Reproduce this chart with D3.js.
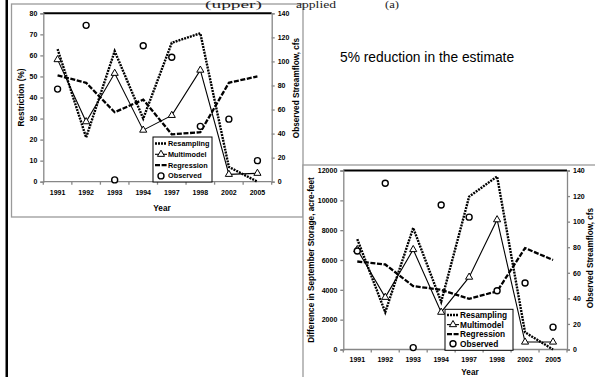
<!DOCTYPE html>
<html>
<head>
<meta charset="utf-8">
<script src="https://cdn.jsdelivr.net/npm/d3@7"></script>
<style>
  body { margin: 0; background: #fff; }
  svg { display: block; font-family: "Liberation Sans", Arial, sans-serif; }
</style>
</head>
<body>
<div id="chart"></div>
<script>
// values
const years = ["1991", "1992", "1993", "1994", "1997", "1998", "2002", "2005"];
const restrictResampling = [63, 21, 62, 30, 66, 70.5, 7, 0];
const restrictMultimodel = [58, 28.5, 51.5, 24.5, 31.5, 53, 3.5, 4];
const restrictRegression = [50.5, 47, 33, 39, 22.5, 23.5, 47, 50];
const storageResampling = [7400, 2500, 8150, 3200, 10250, 11600, 1150, 0];
const storageMultimodel = [6700, 3500, 6700, 2500, 4850, 8700, 500, 500];
const storageRegression = [5900, 5700, 4250, 4000, 3400, 3900, 6800, 6000];
const observedFlow = [77, 130, 1.5, 113, 103.5, 46, 52, 17.5];
const legendNames = ["Resampling", "Multimodel", "Regression", "Observed"];
const captionParts = ["(upper)", "applied", "(a)"];

const W = 595, H = 377;
const axisGray = "#878787";
const dotted = "2,1";
const dashed = "5,1.6";

const svg = d3.select("#chart").append("svg")
  .attr("width", W).attr("height", H);

// page margin rule
svg.append("rect").attr("x", 5.5).attr("y", 0).attr("width", 2.5).attr("height", H).attr("fill", "#000");

svg.append("text")
  .attr("x", 340).attr("y", 62)
  .attr("font-size", 13.8)
  .text("5% reduction in the estimate");

function drawChart(cfg) {
  const g = svg.append("g");

  g.append("rect")
    .attr("x", cfg.box.x).attr("y", cfg.box.y)
    .attr("width", cfg.box.w).attr("height", cfg.box.h)
    .attr("fill", "#fff").attr("stroke", "#9a9a9a").attr("stroke-width", 1.3);

  const x = d3.scaleBand().domain(years).range([cfg.plot.l, cfg.plot.r]).padding(0);
  const y = d3.scaleLinear().domain([0, cfg.yMax]).range([cfg.plot.b, cfg.plot.t]);
  const y2 = d3.scaleLinear().domain([0, 140]).range([cfg.plot.b, cfg.plot.t]);
  const cx = (d, i) => x(years[i]) + x.bandwidth() / 2;

  // plot area top border
  g.append("line")
    .attr("x1", cfg.plot.l).attr("x2", cfg.plot.r)
    .attr("y1", cfg.plot.t).attr("y2", cfg.plot.t)
    .attr("stroke", "#000").attr("stroke-width", 2);

  // left axis
  const yAxis = g.append("g")
    .attr("transform", `translate(${cfg.plot.l},0)`)
    .call(d3.axisLeft(y).tickValues(d3.range(0, cfg.yMax + 1, cfg.yStep))
      .tickFormat(d3.format("d")).tickSize(3).tickPadding(3));
  // right axis
  const y2Axis = g.append("g")
    .attr("transform", `translate(${cfg.plot.r},0)`)
    .call(d3.axisRight(y2).tickValues(d3.range(0, 141, 20))
      .tickFormat(d3.format("d")).tickSize(3).tickPadding(3));
  // bottom axis (labels only, ticks between categories)
  const xAxis = g.append("g")
    .attr("transform", `translate(0,${cfg.plot.b})`)
    .call(d3.axisBottom(x).tickSize(0).tickPadding(cfg.xLabelPad));
  xAxis.selectAll(".tick")
    .append("line")
    .attr("x1", -x.step() / 2).attr("x2", -x.step() / 2)
    .attr("y1", 0).attr("y2", 3);
  xAxis.append("line")
    .attr("x1", cfg.plot.r).attr("x2", cfg.plot.r)
    .attr("y1", 0).attr("y2", 3);

  [yAxis, y2Axis, xAxis].forEach((a) => {
    a.selectAll("path, line").attr("stroke", axisGray).attr("stroke-width", 1.3);
    a.selectAll("text")
      .attr("fill", "#000")
      .attr("font-size", cfg.tickFont)
      .attr("font-weight", "bold")
      .attr("font-family", "'Liberation Sans', Arial, sans-serif");
  });
  xAxis.select(".domain").attr("d", `M${cfg.plot.l},0H${cfg.plot.r}`);

  // axis titles
  const title = (tx, ty, rot, txt) => g.append("text")
    .attr("transform", `translate(${tx},${ty}) rotate(${rot})`)
    .attr("text-anchor", "middle").attr("dominant-baseline", "central")
    .attr("font-size", cfg.titleFont).attr("font-weight", "bold")
    .text(txt);
  title(cfg.yearX, cfg.yearY, 0, "Year");
  title(cfg.leftTitleX, (cfg.plot.t + cfg.plot.b) / 2, -90, cfg.leftTitle);
  title(cfg.rightTitleX, cfg.rightTitleY, -90, "Observed  Streamflow, cfs");

  const line = d3.line().x(cx).y((d) => y(d));

  g.append("path").datum(cfg.regression)
    .attr("d", line).attr("fill", "none")
    .attr("stroke", "#000").attr("stroke-width", 2.3).attr("stroke-dasharray", dashed);
  g.append("path").datum(cfg.resampling)
    .attr("d", line).attr("fill", "none")
    .attr("stroke", "#000").attr("stroke-width", 2.4).attr("stroke-dasharray", dotted);
  g.append("path").datum(cfg.multimodel)
    .attr("d", line).attr("fill", "none")
    .attr("stroke", "#000").attr("stroke-width", 1.1);

  const tri = d3.symbol(d3.symbolTriangle).size(cfg.triSize);
  g.selectAll(".tri").data(cfg.multimodel).enter().append("path")
    .attr("class", "tri")
    .attr("d", tri)
    .attr("transform", (d, i) => `translate(${cx(d, i)},${y(d)})`)
    .attr("fill", "#fff").attr("stroke", "#000").attr("stroke-width", 1);

  g.selectAll(".obs").data(observedFlow).enter().append("circle")
    .attr("class", "obs")
    .attr("cx", cx).attr("cy", (d) => y2(d))
    .attr("r", cfg.circleR)
    .attr("fill", "#fff").attr("stroke", "#000").attr("stroke-width", 1.4);

  // legend
  const L = cfg.legend;
  const lg = g.append("g");
  lg.append("rect")
    .attr("x", L.x).attr("y", L.y).attr("width", L.w).attr("height", L.h)
    .attr("fill", "#fff").attr("stroke", "#000").attr("stroke-width", 1);
  legendNames.forEach((name, i) => {
    const ry = L.y + L.first + i * L.row;
    const x0 = L.x + 2, x1 = L.textX - 1, xm = (x0 + x1) / 2;
    if (name === "Resampling") {
      lg.append("line").attr("x1", x0).attr("x2", x1).attr("y1", ry).attr("y2", ry)
        .attr("stroke", "#000").attr("stroke-width", 2.4).attr("stroke-dasharray", dotted);
    } else if (name === "Regression") {
      lg.append("line").attr("x1", x0).attr("x2", x1).attr("y1", ry).attr("y2", ry)
        .attr("stroke", "#000").attr("stroke-width", 2.3).attr("stroke-dasharray", dashed);
    } else if (name === "Multimodel") {
      lg.append("line").attr("x1", x0).attr("x2", x1).attr("y1", ry).attr("y2", ry)
        .attr("stroke", "#000").attr("stroke-width", 1.1);
      lg.append("path").attr("d", tri).attr("transform", `translate(${xm},${ry})`)
        .attr("fill", "#fff").attr("stroke", "#000").attr("stroke-width", 1);
    } else {
      lg.append("circle").attr("cx", xm).attr("cy", ry).attr("r", cfg.circleR)
        .attr("fill", "#fff").attr("stroke", "#000").attr("stroke-width", 1.4);
    }
    lg.append("text")
      .attr("x", L.textX).attr("y", ry)
      .attr("dominant-baseline", "central")
      .attr("font-size", L.font).attr("font-weight", "bold")
      .text(name);
  });
}

drawChart({
  box: { x: 11.5, y: 4, w: 291.5, h: 213 },
  plot: { l: 43.3, r: 271.7, t: 13.3, b: 181.7 },
  yMax: 80, yStep: 10,
  resampling: restrictResampling,
  multimodel: restrictMultimodel,
  regression: restrictRegression,
  leftTitle: "Restriction (%)",
  leftTitleX: 21.7,
  rightTitleX: 296, rightTitleY: 88,
  yearX: 162, yearY: 208,
  xLabelPad: 8,
  tickFont: 7, titleFont: 8.2,
  triSize: 22, circleR: 3,
  legend: { x: 153, y: 137, w: 59, h: 45, first: 6.5, row: 10.8, textX: 168, font: 7.3 },
});

drawChart({
  box: { x: 303, y: 165, w: 300, h: 220 },
  plot: { l: 343.3, r: 567, t: 170.5, b: 349.5 },
  yMax: 12000, yStep: 2000,
  resampling: storageResampling,
  multimodel: storageMultimodel,
  regression: storageRegression,
  leftTitle: "Difference in September Storage, acre-feet",
  leftTitleX: 311.7,
  rightTitleX: 590, rightTitleY: 258,
  yearX: 470, yearY: 372.5,
  xLabelPad: 8,
  tickFont: 7, titleFont: 8.2,
  triSize: 22, circleR: 3,
  legend: { x: 445, y: 309.3, w: 68, h: 41, first: 5.7, row: 9.6, textX: 460, font: 8.3 },
});

// caption line from the page above (mostly cropped in the source), drawn over the first frame
const captionX = [205, 296, 385];
const captionLen = [57, 40, 14];
svg.append("g")
  .attr("font-family", "'Liberation Serif', 'Times New Roman', serif")
  .attr("font-size", 10)
  .attr("fill", "#222")
  .selectAll("text")
  .data(captionParts)
  .enter().append("text")
  .attr("x", (d, i) => captionX[i]).attr("y", 8)
  .attr("textLength", (d, i) => captionLen[i])
  .attr("lengthAdjust", "spacingAndGlyphs")
  .text((d) => d);
</script>
</body>
</html>
